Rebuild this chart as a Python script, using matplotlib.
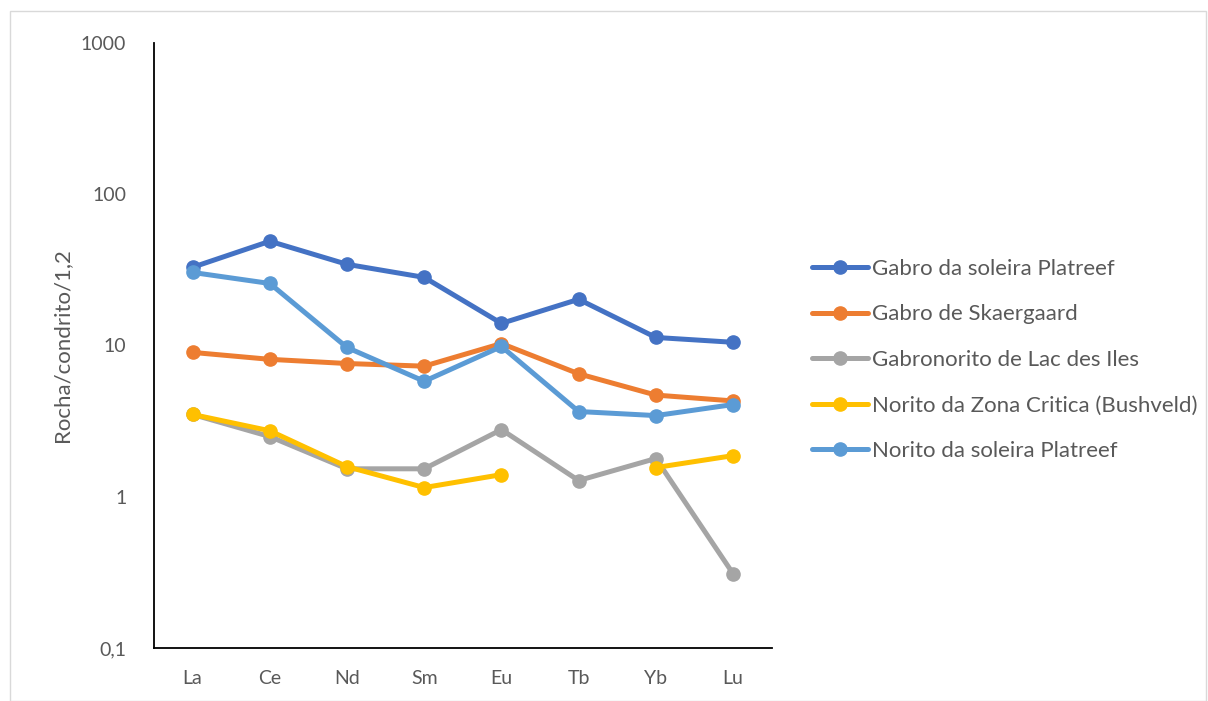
import numpy as np
import matplotlib.pyplot as plt
from matplotlib.patches import Rectangle

plt.rcParams['font.family'] = ['Lato', 'DejaVu Sans']

elementos = ['La', 'Ce', 'Nd', 'Sm', 'Eu', 'Tb', 'Yb', 'Lu']
gabro_platreef = [32.9, 48.9, 34.4, 28.2, 14.0, 20.2, 11.3, 10.5]
gabro_skaergaard = [9.0, 8.1, 7.6, 7.3, 10.3, 6.5, 4.7, 4.3]
gabronorito_lac = [3.5, 2.5, 1.53, 1.53, 2.78, 1.28, 1.79, 0.31]
norito_bushveld = [3.5, 2.73, 1.58, 1.15, 1.4, np.nan, 1.56, 1.87]
norito_platreef = [30.4, 25.7, 9.7, 5.8, 9.85, 3.66, 3.44, 4.07]

series = [
    ('Gabro da soleira Platreef', gabro_platreef, '#4472C4'),
    ('Gabro de Skaergaard', gabro_skaergaard, '#ED7D31'),
    ('Gabronorito de Lac des Iles', gabronorito_lac, '#A5A5A5'),
    ('Norito da Zona Critica (Bushveld)', norito_bushveld, '#FFC000'),
    ('Norito da soleira Platreef', norito_platreef, '#5B9BD5'),
]

fig = plt.figure(figsize=(12.08, 7.01), dpi=100)
fig.patches.append(Rectangle((0.008, 0.0), 0.99, 0.985, transform=fig.transFigure,
                             fill=False, edgecolor='#D9D9D9', linewidth=1))
ax = fig.add_axes([0.1275, 0.0756, 0.5113, 0.8631])

x = np.arange(len(elementos))
for nome, vals, cor in series:
    ax.plot(x, vals, color=cor, linewidth=3.6, marker='o', markersize=9.5,
            label=nome, solid_capstyle='round')

ax.set_yscale('log')
ax.set_ylim(0.1, 1000)
ax.set_xlim(-0.5, len(elementos) - 0.5)
ax.set_xticks(x)
ax.set_xticklabels(elementos)
ax.set_yticks([0.1, 1, 10, 100, 1000])
ax.set_yticklabels(['0,1', '1', '10', '100', '1000'])
ax.minorticks_off()
ax.tick_params(axis='both', length=0, labelsize=14, colors='#595959')
ax.tick_params(axis='x', pad=16)
ax.tick_params(axis='y', pad=20)
for s in ['top', 'right']:
    ax.spines[s].set_visible(False)
for s in ['left', 'bottom']:
    ax.spines[s].set_color('black')
    ax.spines[s].set_linewidth(1.3)
ax.set_ylabel('Rocha/condrito/1,2', fontsize=16, color='#595959', labelpad=6)

leg = ax.legend(loc='center left', bbox_to_anchor=(1.033, 0.476), frameon=False,
                fontsize=16, labelspacing=1.15, handlelength=2.5, handletextpad=0.2)
for t in leg.get_texts():
    t.set_color('#595959')

fig.savefig('out.png', dpi=100)
